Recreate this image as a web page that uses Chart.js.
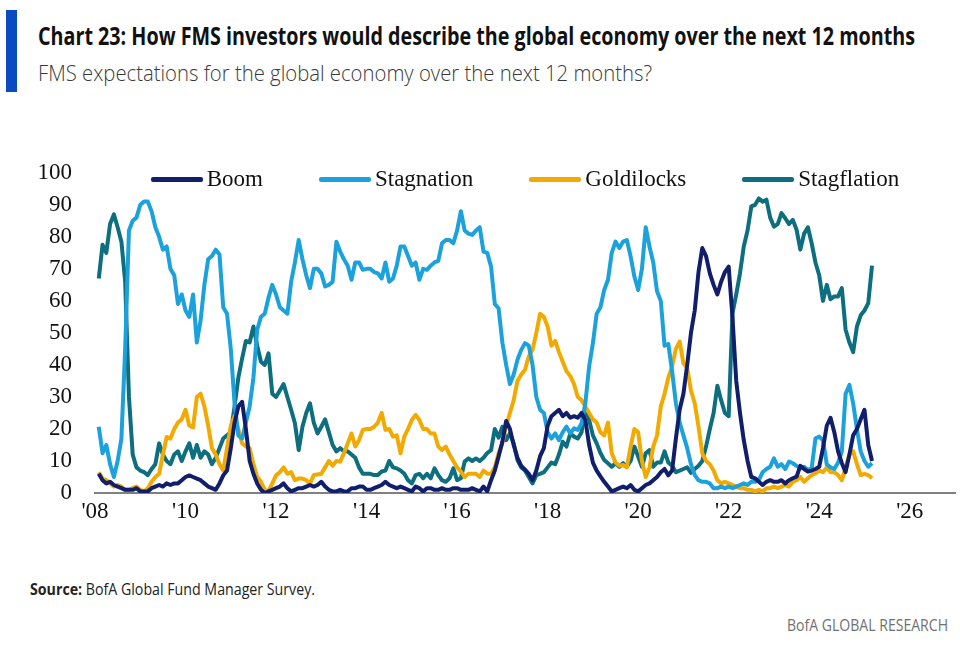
<!DOCTYPE html>
<html>
<head>
<meta charset="utf-8">
<title>FMS global economy expectations</title>
<script src="https://cdn.jsdelivr.net/npm/chart.js@4.4.1/dist/chart.umd.min.js"></script>
<style>
  body { margin: 0; width: 960px; height: 657px; background: #fff; position: relative; overflow: hidden;
         font-family: "Open Sans", sans-serif; }
  .bar { position: absolute; left: 6px; top: 10px; width: 11px; height: 82px; background: #0a4bc2; }
  .fit { position: absolute; white-space: nowrap; transform-origin: 0 50%; line-height: 1; }
  .title { left: 38px; top: 23px; font-size: 25px; font-weight: bold; color: #111; }
  .subtitle { left: 38px; top: 61px; font-size: 22px; font-weight: 300; color: #3a3a3a; }
  #wrap { position: absolute; left: 0; top: 136px; width: 960px; height: 394px; }
  #legend { position: absolute; left: 95px; width: 860px; top: 166px; display: flex; justify-content: center; gap: 56px;
            font-family: "Liberation Serif", serif; font-size: 23px; color: #111; }
  #legend .item { display: flex; align-items: center; gap: 4px; }
  #legend .swatch { width: 52px; height: 5px; border-radius: 2px; }
  .source { left: 30px; top: 581px; font-size: 16px; color: #222; }
  .brand { left: 787px; top: 617px; font-size: 16px; color: #707070; }
</style>
</head>
<body>
<div class="bar"></div>
<div class="fit title" data-w="877">Chart 23: How FMS investors would describe the global economy over the next 12 months</div>
<div class="fit subtitle" data-w="614">FMS expectations for the global economy over the next 12 months?</div>
<div id="wrap"><canvas id="fms-chart"></canvas></div>
<div id="legend"></div>
<div class="fit source" data-w="285"><b>Source:</b> BofA Global Fund Manager Survey.</div>
<div class="fit brand" data-w="161">BofA GLOBAL RESEARCH</div>
<script>
// monthly survey readings, Jan 2008 .. Feb 2025 (% of respondents), one row per year
const startYear = 2008;

const boom = [
  6, 4, 3, 3.5, 2.5, 2, 1.5, 1, 1, 1, 1.5, 0.5,
  0.5, 0.5, 1.5, 2, 2.5, 2, 3, 2.5, 3, 3, 4, 5,
  5.5, 5, 4.5, 4, 3, 2, 1.5, 1, 3, 5.5, 7, 14,
  22, 27, 28.5, 20, 10, 6, 3, 1, 0, 0.5, 1, 1.5,
  2, 3, 1.5, 0.5, 1, 1.5, 1.5, 2, 2.5, 2, 2.5, 3.5,
  2, 1, 0.5, 0.5, 1, 0.5, 0.5, 1.5, 1.5, 2, 2, 1,
  1, 1.5, 2, 2.5, 3.5, 2.5, 2, 1.5, 2, 1.5, 1, 0.5,
  2, 1.5, 0.5, 1.5, 1.5, 1, 1, 1.5, 1, 1, 1.5, 1.5,
  1, 1, 1, 1.5, 1, 0.5, 2, 0.5, 4, 7, 11.4, 16,
  22.5, 20, 15, 11, 8.5, 7.3, 6, 4, 7, 11.5, 14, 21,
  24, 25, 26, 24, 25, 23.5, 24, 23.5, 25, 22.8, 15, 9.5,
  7, 5.2, 3.5, 2, 0.5, 1, 1.5, 2, 1.5, 2.5, 1, 0.5,
  1.5, 2.5, 3, 4, 5, 6.5, 7.5, 5.5, 7, 17, 26, 31,
  40, 50, 57, 69, 76.5, 74, 68.6, 65, 62, 66, 69, 70.7,
  55, 35, 25, 16.5, 10, 5, 4.6, 3.5, 2.5, 3.5, 4, 3.5,
  3.5, 4, 3, 4, 4.6, 5.1, 8.5, 7.5, 6.7, 7, 7.5, 8.2,
  14, 21, 23.5, 19, 13, 9.3, 6.5, 12, 18, 20, 23, 26,
  15, 10
];

const stagnation = [
  20.7, 12.4, 15, 9, 5, 10, 17, 45, 82, 85, 86, 90,
  91, 91, 88, 83, 80, 76, 77, 70, 68, 59, 62, 57,
  55, 62, 47, 54, 65, 73, 74, 76, 74.5, 58, 56, 45,
  28, 18, 17, 22, 27, 36, 51, 55, 56, 61, 65, 62,
  58, 57, 56, 66, 72, 79, 73, 68, 64, 70, 70, 68.6,
  64.5, 65, 66, 78.5, 75.4, 73, 71, 66.6, 72, 72, 69.7, 70,
  70, 69, 68.6, 67, 72, 66, 67, 71, 77, 77, 74, 71,
  72, 66.6, 70, 69.7, 71, 72, 72.5, 78, 79, 79, 78, 82,
  88, 82, 81, 80.6, 82, 83, 75.4, 75, 70.7, 59, 57.7, 47,
  40, 34, 37, 41.6, 44.7, 46.8, 46, 40, 30, 26, 25, 19,
  17, 18.6, 16.5, 19, 20.7, 18.6, 20.2, 19.7, 21.8, 28, 39.5, 46.8,
  56, 58, 63.4, 66.6, 75, 78.5, 76.5, 78.5, 79, 73.9, 67.6, 63.4,
  70, 83, 77, 72, 63, 60, 46, 46.5, 38, 28, 22, 18,
  14, 9, 5.6, 4, 3.5, 3.5, 3, 1.5, 1.5, 2, 1.5, 2,
  1.5, 2, 2.5, 3, 2.5, 3.5, 3.5, 4, 6.5, 7.5, 8.2, 10.8,
  8.2, 9, 7.5, 9.8, 9.3, 8.5, 7.7, 8.2, 7.2, 7.7, 17, 17.6,
  16.5, 9, 8, 7.5, 9.5, 13, 31, 33.75, 28, 20, 13, 10,
  8.2, 9.3
];

const goldilocks = [
  6.5, 4.5, 4, 3, 2, 2.5, 2, 1, 1, 1.5, 2, 1,
  0.5, 1.5, 3.5, 5, 6, 12, 17.5, 17, 20, 22, 23, 26,
  21, 20.5, 30, 31, 27, 21, 14, 12, 9, 7, 14, 21,
  24, 20, 15.5, 14.5, 14, 9, 5, 3.5, 1, 0.5, 3, 5.5,
  6.5, 8, 6, 6.5, 4, 4.5, 4.5, 4, 3, 5.6, 5.8, 6,
  8, 10, 8.5, 10, 9.8, 12.4, 15.5, 18.6, 14.5, 16.5, 19.7, 20,
  20, 20.7, 22, 25, 19.7, 20, 17.6, 18, 12.4, 17.6, 20, 22.8,
  24.4, 22.8, 20, 20, 18.6, 18.6, 14.5, 13.4, 14.5, 12, 10, 8,
  6.7, 5, 6, 6, 6, 5, 7, 6, 6, 8, 12.4, 15.5,
  21, 25, 29, 35, 37, 38.5, 42.6, 44.7, 50, 56, 55, 52,
  46, 47.5, 44, 41, 38, 36.5, 34, 30, 29, 27, 25, 23,
  22, 19, 18, 22, 12.4, 9.5, 8.5, 8.75, 8, 14.5, 20, 19,
  10, 5, 8, 14.5, 18, 27, 31, 36, 39.5, 45, 47.3, 40.5,
  39, 32, 28, 20.7, 12.4, 10, 9, 7, 4, 3, 3.5, 3,
  2.5, 2, 1.5, 1.5, 1, 1, 0.5, 1, 0.5, 1.5, 1.5, 2,
  1.5, 2, 2.5, 2, 3.5, 4, 5, 3.5, 4.6, 5.6, 6.1, 7,
  6.5, 8, 6.5, 6.5, 5.6, 4, 8, 12, 13, 9, 5.6, 6,
  5.6, 4.6
];

const stagflation = [
  67, 77.5, 75, 84, 87, 83, 78.5, 66, 30, 12, 8, 7,
  6.5, 5.6, 7.5, 9, 15.5, 12, 10, 9, 12, 13, 10, 13,
  15.5, 11, 15, 11, 13, 12, 9, 11, 14, 17, 18, 19,
  27, 36, 42, 47.5, 47, 52, 46, 41, 40, 43.6, 31, 30,
  32, 34, 30, 26, 21.8, 13.4, 20.7, 25, 28, 22, 18.6, 20.7,
  23, 19, 15, 13, 14, 13, 13, 12, 11, 8, 6, 6,
  6, 5.6, 5.6, 6.7, 7, 10, 8, 7.7, 7, 6, 4, 3,
  5.6, 6, 4.6, 6, 4.6, 7.7, 5.6, 4, 3.5, 4.6, 7.7, 4,
  4.6, 9.8, 10.8, 10, 10.8, 10, 11, 12.5, 13.4, 20, 17.3, 20.7,
  16.5, 18.6, 15.5, 10.3, 8, 7, 5, 3, 5.6, 6, 6.5, 8,
  9.5, 9, 12, 16, 14.5, 18.6, 17.6, 17, 19, 26.5, 22.8, 18,
  15.5, 12.5, 10.3, 9.3, 8.2, 9.3, 8.2, 9.3, 8.2, 10, 14.5, 11.4,
  8.2, 12.4, 13.4, 8.2, 9.5, 9.5, 13, 9.5, 8.5, 6.5, 7, 7.5,
  8, 6.3, 7.5, 8.5, 10, 14.5, 20, 25, 33.5, 29, 25, 24,
  56, 62, 68.6, 77, 82, 89.5, 90, 92, 91, 91.6, 86, 83.2,
  84, 87.4, 85.8, 84, 85.3, 82.2, 76, 81, 83, 78, 72, 68,
  60, 65, 60.5, 61.4, 61.4, 64, 51, 47, 44, 52, 55.5, 57,
  59.3, 71
];

const seriesNames = ['Boom', 'Stagnation', 'Goldilocks', 'Stagflation'];
const seriesColors = ['#111e6c', '#1ba1dc', '#f2aa00', '#0d6e7f'];
const xTickYears = [2008, 2010, 2012, 2014, 2016, 2018, 2020, 2022, 2024, 2026];
const yTicks = [0, 10, 20, 30, 40, 50, 60, 70, 80, 90, 100];

// month i sits at its month-end on a decimal-year axis
const toPoints = vals => vals.map((v, i) => ({ x: startYear + (i + 1) / 12, y: v }));

const seriesValues = [boom, stagnation, goldilocks, stagflation];
const tickFont = { family: 'Liberation Serif', size: 23 };

const ctx = document.getElementById('fms-chart').getContext('2d');
const fmsChart = new Chart(ctx, {
  type: 'line',
  data: {
    datasets: seriesNames.map((name, k) => ({
      label: name,
      data: toPoints(seriesValues[k]),
      borderColor: seriesColors[k],
      backgroundColor: seriesColors[k],
      borderWidth: 4,
      borderJoinStyle: 'round',
      pointRadius: 0,
      tension: 0
    }))
  },
  options: {
    responsive: true,
    maintainAspectRatio: false,
    animation: false,
    layout: { padding: { top: 9, right: 5, left: 0, bottom: 0 } },
    plugins: { legend: { display: false }, tooltip: { enabled: false } },
    scales: {
      x: {
        type: 'linear',
        min: 2008,
        max: 2027,
        afterBuildTicks: scale => { scale.ticks = xTickYears.map(v => ({ value: v })); },
        afterFit: scale => { scale.height = 37; },
        grid: { display: false, drawTicks: false },
        border: { display: true, color: '#808080', width: 2 },
        ticks: {
          padding: 5, color: '#111', font: tickFont, maxRotation: 0, autoSkip: false,
          callback: v => "'" + String(v).slice(2)
        }
      },
      y: {
        min: 0,
        max: 100,
        afterBuildTicks: scale => { scale.ticks = yTicks.map(v => ({ value: v })); },
        afterFit: scale => { scale.width = 95; },
        grid: { display: false, drawTicks: false },
        border: { display: false },
        ticks: { padding: 23, color: '#111', font: tickFont }
      }
    }
  }
});

// legend built from the same names/colours
const legendElem = document.getElementById('legend');
seriesNames.forEach((name, k) => {
  const item = document.createElement('div');
  item.className = 'item';
  const swatch = document.createElement('span');
  swatch.className = 'swatch';
  swatch.style.background = seriesColors[k];
  const label = document.createElement('span');
  label.textContent = name;
  item.appendChild(swatch);
  item.appendChild(label);
  legendElem.appendChild(item);
});

// squeeze the sans text lines to the condensed widths of the original
document.querySelectorAll('.fit').forEach(el => {
  const w = el.getBoundingClientRect().width;
  el.style.transform = 'scaleX(' + (Number(el.dataset.w) / w) + ')';
});
</script>
</body>
</html>
